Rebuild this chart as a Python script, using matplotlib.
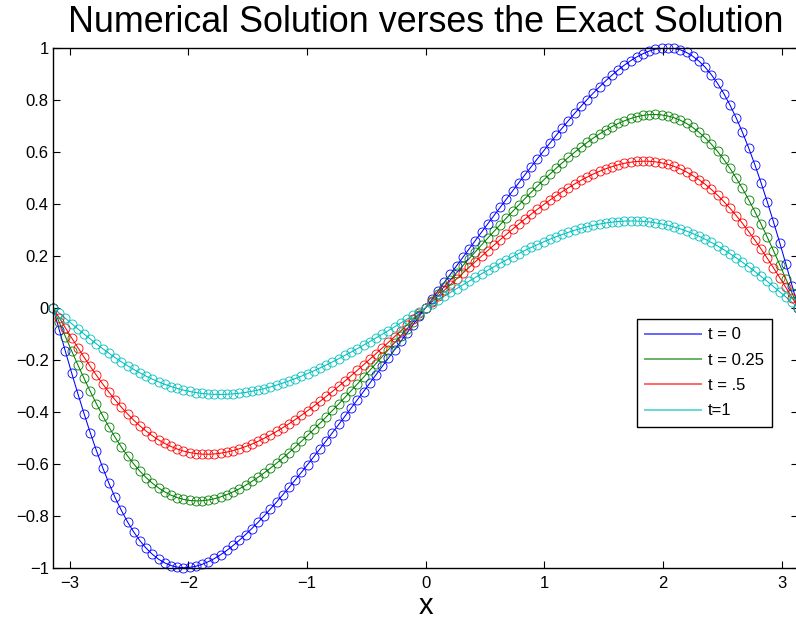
import numpy as np
import matplotlib
matplotlib.use("Agg")
import matplotlib.pyplot as plt

plt.rcParams['font.family'] = ['Liberation Sans', 'DejaVu Sans']

# grid over [-pi, pi]
n_points = 121
x = np.linspace(-np.pi, np.pi, n_points)

# solution profiles at each time level
u_t0 = [
    0.0000, -0.0846, -0.1684, -0.2506, -0.3306, -0.4075, -0.4810, -0.5503, -0.6151, -0.6751,
    -0.7299, -0.7795, -0.8238, -0.8627, -0.8964, -0.9250, -0.9485, -0.9674, -0.9817, -0.9917,
    -0.9977, -1.0000, -0.9988, -0.9944, -0.9871, -0.9770, -0.9646, -0.9499, -0.9332, -0.9146,
    -0.8944, -0.8728, -0.8498, -0.8257, -0.8005, -0.7743, -0.7474, -0.7197, -0.6914, -0.6625,
    -0.6331, -0.6032, -0.5730, -0.5424, -0.5116, -0.4805, -0.4492, -0.4177, -0.3861, -0.3543,
    -0.3224, -0.2904, -0.2583, -0.2261, -0.1939, -0.1617, -0.1294, -0.0971, -0.0647, -0.0324,
    0.0000,
    0.0324, 0.0647, 0.0971, 0.1294, 0.1617, 0.1939, 0.2261, 0.2583, 0.2904, 0.3224,
    0.3543, 0.3861, 0.4177, 0.4492, 0.4805, 0.5116, 0.5424, 0.5730, 0.6032, 0.6331,
    0.6625, 0.6914, 0.7197, 0.7474, 0.7743, 0.8005, 0.8257, 0.8498, 0.8728, 0.8944,
    0.9146, 0.9332, 0.9499, 0.9646, 0.9770, 0.9871, 0.9944, 0.9988, 1.0000, 0.9977,
    0.9917, 0.9817, 0.9674, 0.9485, 0.9250, 0.8964, 0.8627, 0.8238, 0.7795, 0.7299,
    0.6751, 0.6151, 0.5503, 0.4810, 0.4075, 0.3306, 0.2506, 0.1684, 0.0846, 0.0000,
]

u_t025 = [
    0.0000, -0.0559, -0.1114, -0.1661, -0.2197, -0.2717, -0.3219, -0.3699, -0.4156, -0.4585,
    -0.4987, -0.5359, -0.5701, -0.6011, -0.6289, -0.6535, -0.6750, -0.6933, -0.7086, -0.7210,
    -0.7305, -0.7372, -0.7414, -0.7431, -0.7424, -0.7395, -0.7346, -0.7277, -0.7189, -0.7085,
    -0.6966, -0.6832, -0.6684, -0.6525, -0.6354, -0.6172, -0.5981, -0.5782, -0.5574, -0.5359,
    -0.5138, -0.4911, -0.4678, -0.4440, -0.4198, -0.3952, -0.3703, -0.3450, -0.3194, -0.2936,
    -0.2676, -0.2413, -0.2149, -0.1884, -0.1617, -0.1349, -0.1080, -0.0811, -0.0541, -0.0271,
    0.0000,
    0.0271, 0.0541, 0.0811, 0.1080, 0.1349, 0.1617, 0.1884, 0.2149, 0.2413, 0.2676,
    0.2936, 0.3194, 0.3450, 0.3703, 0.3952, 0.4198, 0.4440, 0.4678, 0.4911, 0.5138,
    0.5359, 0.5574, 0.5782, 0.5981, 0.6172, 0.6354, 0.6525, 0.6684, 0.6832, 0.6966,
    0.7085, 0.7189, 0.7277, 0.7346, 0.7395, 0.7424, 0.7431, 0.7414, 0.7372, 0.7305,
    0.7210, 0.7086, 0.6933, 0.6750, 0.6535, 0.6289, 0.6011, 0.5701, 0.5359, 0.4987,
    0.4585, 0.4156, 0.3699, 0.3219, 0.2717, 0.2197, 0.1661, 0.1114, 0.0559, 0.0000,
]

u_t05 = [
    0.0000, -0.0389, -0.0777, -0.1159, -0.1535, -0.1903, -0.2259, -0.2603, -0.2934, -0.3248,
    -0.3545, -0.3825, -0.4085, -0.4326, -0.4547, -0.4747, -0.4926, -0.5084, -0.5221, -0.5338,
    -0.5435, -0.5513, -0.5571, -0.5610, -0.5632, -0.5636, -0.5624, -0.5596, -0.5553, -0.5496,
    -0.5425, -0.5342, -0.5247, -0.5140, -0.5023, -0.4896, -0.4761, -0.4616, -0.4464, -0.4304,
    -0.4137, -0.3964, -0.3785, -0.3601, -0.3412, -0.3219, -0.3021, -0.2820, -0.2615, -0.2407,
    -0.2197, -0.1984, -0.1768, -0.1551, -0.1333, -0.1113, -0.0891, -0.0669, -0.0447, -0.0223,
    0.0000,
    0.0223, 0.0447, 0.0669, 0.0891, 0.1113, 0.1333, 0.1551, 0.1768, 0.1984, 0.2197,
    0.2407, 0.2615, 0.2820, 0.3021, 0.3219, 0.3412, 0.3601, 0.3785, 0.3964, 0.4137,
    0.4304, 0.4464, 0.4616, 0.4761, 0.4896, 0.5023, 0.5140, 0.5247, 0.5342, 0.5425,
    0.5496, 0.5553, 0.5596, 0.5624, 0.5636, 0.5632, 0.5610, 0.5571, 0.5513, 0.5435,
    0.5338, 0.5221, 0.5084, 0.4926, 0.4747, 0.4547, 0.4326, 0.4085, 0.3825, 0.3545,
    0.3248, 0.2934, 0.2603, 0.2259, 0.1903, 0.1535, 0.1159, 0.0777, 0.0389, 0.0000,
]

u_t1 = [
    0.0000, -0.0206, -0.0411, -0.0615, -0.0815, -0.1013, -0.1205, -0.1393, -0.1575, -0.1750,
    -0.1919, -0.2079, -0.2231, -0.2374, -0.2508, -0.2633, -0.2748, -0.2853, -0.2947, -0.3031,
    -0.3105, -0.3169, -0.3222, -0.3264, -0.3297, -0.3320, -0.3333, -0.3336, -0.3330, -0.3314,
    -0.3290, -0.3258, -0.3217, -0.3168, -0.3112, -0.3049, -0.2978, -0.2901, -0.2817, -0.2728,
    -0.2633, -0.2533, -0.2427, -0.2317, -0.2203, -0.2084, -0.1962, -0.1836, -0.1707, -0.1575,
    -0.1440, -0.1303, -0.1164, -0.1022, -0.0879, -0.0735, -0.0589, -0.0443, -0.0296, -0.0148,
    0.0000,
    0.0148, 0.0296, 0.0443, 0.0589, 0.0735, 0.0879, 0.1022, 0.1164, 0.1303, 0.1440,
    0.1575, 0.1707, 0.1836, 0.1962, 0.2084, 0.2203, 0.2317, 0.2427, 0.2533, 0.2633,
    0.2728, 0.2817, 0.2901, 0.2978, 0.3049, 0.3112, 0.3168, 0.3217, 0.3258, 0.3290,
    0.3314, 0.3330, 0.3336, 0.3333, 0.3320, 0.3297, 0.3264, 0.3222, 0.3169, 0.3105,
    0.3031, 0.2947, 0.2853, 0.2748, 0.2633, 0.2508, 0.2374, 0.2231, 0.2079, 0.1919,
    0.1750, 0.1575, 0.1393, 0.1205, 0.1013, 0.0815, 0.0615, 0.0411, 0.0206, 0.0000,
]

series = [u_t0, u_t025, u_t05, u_t1]
labels = ['t = 0', 't = 0.25', 't = .5', 't=1']
colors = ['#0000ff', '#008000', '#ff0000', '#00bfbf']

xticks = [-3, -2, -1, 0, 1, 2, 3]
xticklabels = ['\u22123', '\u22122', '\u22121', '0', '1', '2', '3']
yticks = [-1, -0.8, -0.6, -0.4, -0.2, 0, 0.2, 0.4, 0.6, 0.8, 1]
yticklabels = ['\u22121', '\u22120.8', '\u22120.6', '\u22120.4', '\u22120.2', '0',
               '0.2', '0.4', '0.6', '0.8', '1']

fig = plt.figure(figsize=(7.96, 6.22), dpi=100)
ax = fig.add_axes([53 / 796, 54.3 / 622, 745.3 / 796, 520 / 622])

# exact solution curves
line_handles = []
for ys, lab, col in zip(series, labels, colors):
    h, = ax.plot(x, ys, '-', color=col, lw=0.75, label=lab)
    line_handles.append(h)

# numerical solution markers
for ys, col in zip(series, colors):
    ax.plot(x, ys, 'o', mfc='none', mec=col, mew=0.6, ms=6.5, clip_on=False)

ax.set_xlim(-np.pi, np.pi)
ax.set_ylim(-1, 1)
ax.set_xticks(xticks)
ax.set_xticklabels(xticklabels)
ax.set_yticks(yticks)
ax.set_yticklabels(yticklabels)
ax.tick_params(direction='in', length=5, width=0.8, top=True, right=True,
               labelsize=12, colors='black')
ax.tick_params(axis='y', pad=3)
ax.tick_params(axis='x', pad=6)
for sp in ax.spines.values():
    sp.set_linewidth(1.0)
    sp.set_color('black')

ax.set_title('Numerical Solution verses the Exact Solution', fontsize=25.8, pad=11)
ax.set_xlabel('x', fontsize=21, labelpad=1)

leg = ax.legend(handles=line_handles, loc='upper left',
                bbox_to_anchor=(637 / 796, 1 - 319 / 622),
                bbox_transform=fig.transFigure, borderaxespad=0,
                fontsize=12, handlelength=3.35, handletextpad=0.4,
                labelspacing=0.62, borderpad=0.5, fancybox=False,
                framealpha=1, edgecolor='black')
leg.get_frame().set_linewidth(1.0)
for ln in leg.get_lines():
    ln.set_linewidth(1.4)
    ln.set_alpha(0.6)

fig.savefig('out.png', dpi=100)
